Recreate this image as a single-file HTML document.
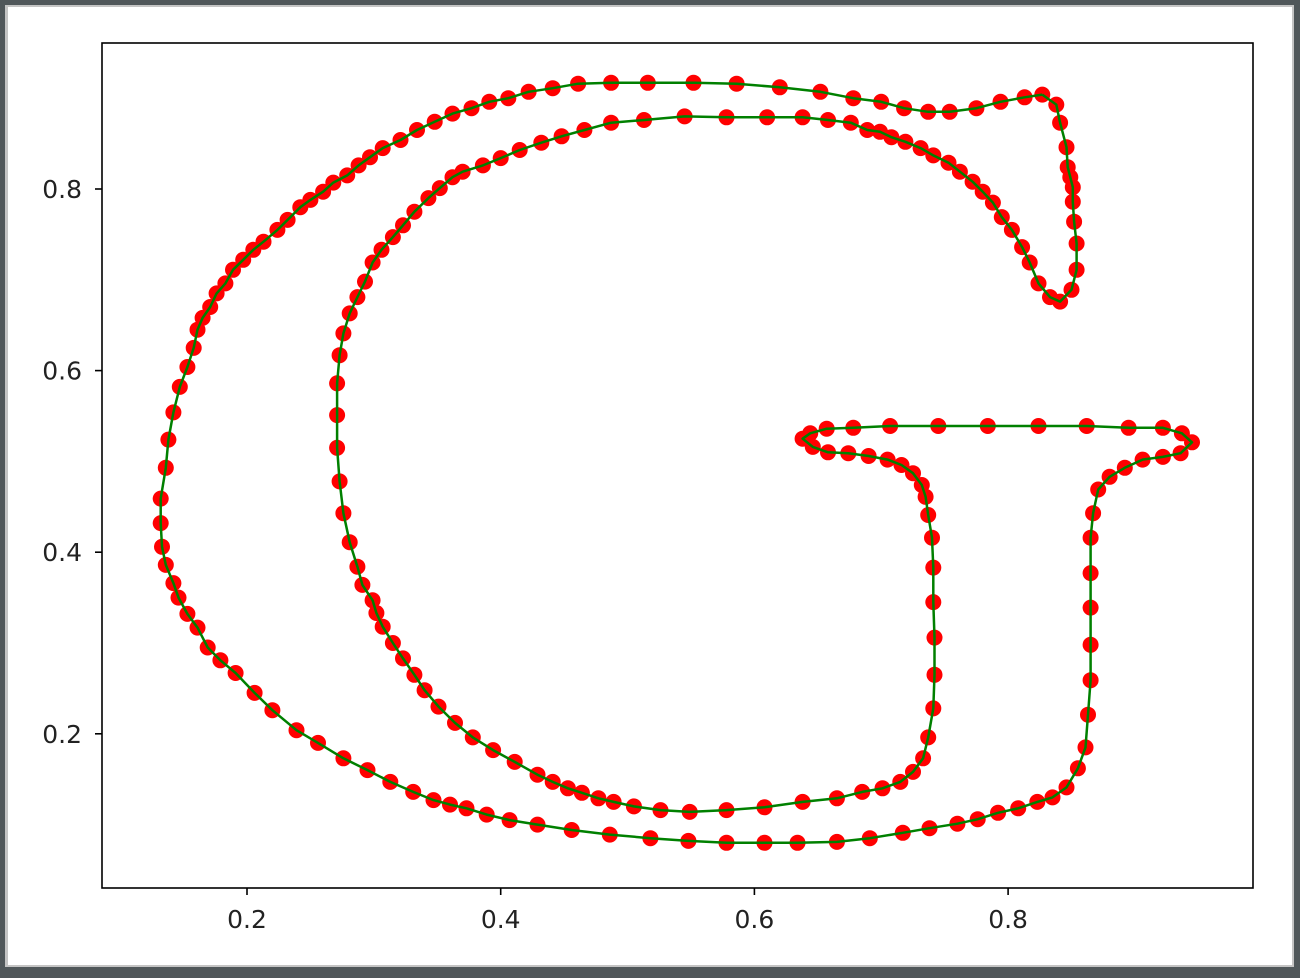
<!DOCTYPE html>
<html><head><meta charset="utf-8"><style>
html,body{margin:0;padding:0;background:#50575a;}
svg{display:block;}
</style></head><body>
<svg id="chart" width="1300" height="978" viewBox="0 0 1300 978" xmlns="http://www.w3.org/2000/svg">
<rect x="0" y="0" width="1300" height="978" fill="#50575a"/>
<rect x="5" y="5" width="1289" height="962" fill="#c4c4c4"/>
<rect x="8" y="7" width="1284" height="958" fill="#ffffff"/>
<g id="plot"></g>
<rect x="102" y="43" width="1151" height="845" fill="none" stroke="#000" stroke-width="1.6"/>
<g id="axes"></g>
</svg>
<script>
const xs = [0.827,0.813,0.794,0.775,0.754,0.737,0.718,0.700,0.678,0.652,0.620,0.586,0.552,0.516,0.487,0.461,0.441,0.422,0.406,0.391,0.377,0.362,0.348,0.334,0.321,0.307,0.297,0.288,0.279,0.268,0.260,0.250,0.242,0.232,0.224,0.213,0.205,0.197,0.189,0.183,0.176,0.171,0.165,0.161,0.158,0.153,0.147,0.142,0.138,0.136,0.132,0.132,0.133,0.136,0.142,0.146,0.153,0.161,0.169,0.179,0.191,0.206,0.220,0.239,0.256,0.276,0.295,0.313,0.331,0.347,0.360,0.373,0.389,0.407,0.429,0.456,0.486,0.518,0.548,0.578,0.608,0.634,0.665,0.691,0.717,0.738,0.760,0.776,0.792,0.808,0.823,0.835,0.846,0.855,0.861,0.863,0.865,0.865,0.865,0.865,0.865,0.867,0.871,0.880,0.892,0.906,0.922,0.936,0.945,0.937,0.922,0.895,0.862,0.824,0.784,0.745,0.707,0.678,0.657,0.644,0.638,0.646,0.658,0.674,0.690,0.705,0.716,0.725,0.732,0.735,0.737,0.740,0.741,0.741,0.742,0.742,0.741,0.737,0.733,0.725,0.715,0.701,0.685,0.665,0.638,0.608,0.578,0.549,0.526,0.505,0.489,0.477,0.464,0.453,0.441,0.429,0.411,0.394,0.378,0.364,0.351,0.340,0.332,0.323,0.315,0.307,0.302,0.299,0.291,0.287,0.281,0.276,0.273,0.271,0.271,0.271,0.273,0.276,0.281,0.287,0.293,0.299,0.306,0.315,0.323,0.332,0.343,0.352,0.362,0.370,0.386,0.400,0.415,0.432,0.448,0.466,0.487,0.513,0.545,0.578,0.610,0.638,0.658,0.676,0.689,0.699,0.708,0.719,0.731,0.741,0.753,0.762,0.772,0.780,0.788,0.795,0.803,0.811,0.817,0.824,0.833,0.841,0.850,0.854,0.854,0.852,0.851,0.851,0.849,0.847,0.846,0.841,0.838];
const ys = [0.904,0.901,0.896,0.889,0.885,0.885,0.889,0.896,0.900,0.907,0.912,0.916,0.917,0.917,0.917,0.916,0.911,0.907,0.900,0.896,0.889,0.883,0.874,0.865,0.854,0.845,0.835,0.826,0.815,0.807,0.797,0.788,0.780,0.766,0.755,0.742,0.733,0.722,0.711,0.696,0.685,0.670,0.658,0.645,0.625,0.604,0.582,0.554,0.524,0.493,0.459,0.432,0.406,0.386,0.366,0.350,0.332,0.317,0.295,0.281,0.267,0.245,0.226,0.204,0.190,0.173,0.160,0.147,0.136,0.127,0.122,0.118,0.111,0.105,0.100,0.094,0.089,0.085,0.082,0.080,0.080,0.080,0.081,0.085,0.091,0.096,0.101,0.106,0.113,0.118,0.125,0.130,0.141,0.162,0.185,0.221,0.259,0.298,0.339,0.377,0.416,0.443,0.469,0.483,0.493,0.502,0.505,0.509,0.521,0.531,0.537,0.537,0.539,0.539,0.539,0.539,0.539,0.537,0.536,0.531,0.525,0.516,0.510,0.509,0.506,0.502,0.496,0.487,0.474,0.461,0.441,0.416,0.383,0.345,0.306,0.265,0.228,0.196,0.173,0.158,0.147,0.140,0.136,0.129,0.125,0.119,0.116,0.114,0.116,0.120,0.125,0.129,0.135,0.140,0.147,0.155,0.169,0.182,0.196,0.212,0.230,0.248,0.265,0.283,0.300,0.318,0.333,0.347,0.364,0.384,0.411,0.443,0.478,0.515,0.551,0.586,0.617,0.641,0.663,0.681,0.698,0.719,0.733,0.747,0.760,0.775,0.790,0.801,0.813,0.819,0.826,0.834,0.843,0.851,0.858,0.865,0.873,0.876,0.880,0.879,0.879,0.879,0.876,0.873,0.865,0.863,0.857,0.852,0.845,0.837,0.829,0.819,0.808,0.797,0.785,0.769,0.755,0.736,0.719,0.696,0.681,0.676,0.689,0.711,0.740,0.764,0.786,0.802,0.813,0.824,0.846,0.873,0.893];
const xTicks = [0.2,0.4,0.6,0.8];
const yTicks = [0.2,0.4,0.6,0.8];
const xTickLabels = ["0.2","0.4","0.6","0.8"];
const yTickLabels = ["0.2","0.4","0.6","0.8"];

const NS = "http://www.w3.org/2000/svg";
function xScale(v){ return 247 + (v - 0.2) * 1268.5; }
function yScale(v){ return 189 + (0.8 - v) * 908; }
const plot = document.getElementById('plot');
const axes = document.getElementById('axes');

for (let i = 0; i < xs.length; i++) {
  const c = document.createElementNS(NS, 'circle');
  c.setAttribute('cx', xScale(xs[i]).toFixed(1));
  c.setAttribute('cy', yScale(ys[i]).toFixed(1));
  c.setAttribute('r', '8');
  c.setAttribute('fill', '#ff0000');
  
  
  plot.appendChild(c);
}
let d = '';
for (let i = 0; i <= xs.length; i++) {
  const k = i % xs.length;
  d += (i === 0 ? 'M' : 'L') + xScale(xs[k]).toFixed(1) + ',' + yScale(ys[k]).toFixed(1);
}
const path = document.createElementNS(NS, 'path');
path.setAttribute('d', d);
path.setAttribute('fill', 'none');
path.setAttribute('stroke', '#008000');
path.setAttribute('stroke-width', '2.5');
path.setAttribute('stroke-linejoin', 'round');


plot.appendChild(path);

for (let i = 0; i < xTicks.length; i++) {
  const x = xScale(xTicks[i]);
  const t = document.createElementNS(NS, 'line');
  t.setAttribute('x1', x); t.setAttribute('x2', x);
  t.setAttribute('y1', 888); t.setAttribute('y2', 895);
  t.setAttribute('stroke', '#000'); t.setAttribute('stroke-width', '1.6');
  
  
  axes.appendChild(t);
  const l = document.createElementNS(NS, 'text');
  l.setAttribute('x', x); l.setAttribute('y', 928);
  l.setAttribute('text-anchor', 'middle');
  l.setAttribute('font-family', '"DejaVu Sans", "Liberation Sans", sans-serif');
  l.setAttribute('font-size', '25');
  l.setAttribute('fill', '#222');
  l.textContent = xTickLabels[i];
  
  
  axes.appendChild(l);
}
for (let i = 0; i < yTicks.length; i++) {
  const y = yScale(yTicks[i]);
  const t = document.createElementNS(NS, 'line');
  t.setAttribute('x1', 95); t.setAttribute('x2', 102);
  t.setAttribute('y1', y); t.setAttribute('y2', y);
  t.setAttribute('stroke', '#000'); t.setAttribute('stroke-width', '1.6');
  
  
  axes.appendChild(t);
  const l = document.createElementNS(NS, 'text');
  l.setAttribute('x', 82); l.setAttribute('y', y + 9);
  l.setAttribute('text-anchor', 'end');
  l.setAttribute('font-family', '"DejaVu Sans", "Liberation Sans", sans-serif');
  l.setAttribute('font-size', '25');
  l.setAttribute('fill', '#222');
  l.textContent = yTickLabels[i];
  
  
  axes.appendChild(l);
}
</script>
</body></html>
